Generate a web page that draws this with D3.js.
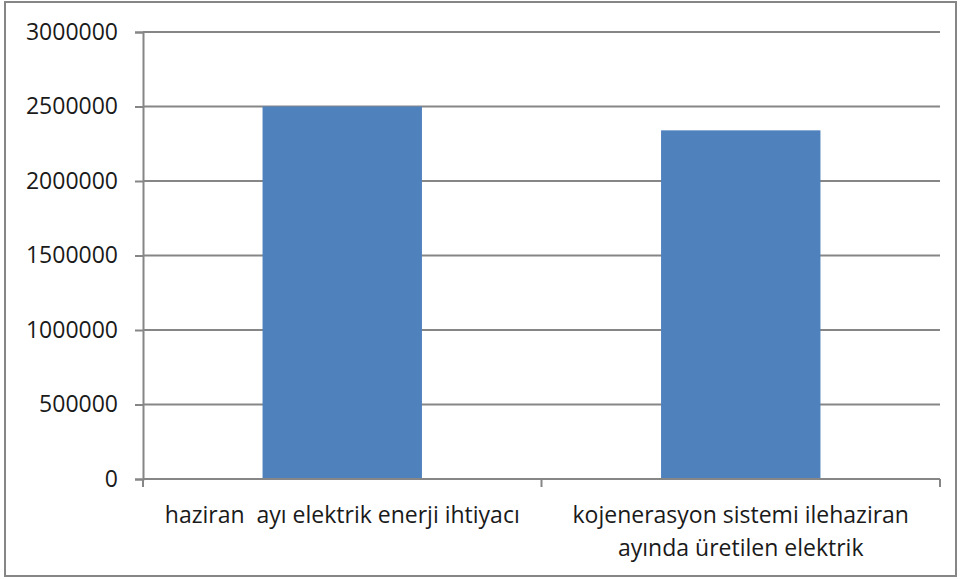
<!DOCTYPE html>
<html>
<head>
<meta charset="utf-8">
<script src="https://cdn.jsdelivr.net/npm/d3@7"></script>
<style>
  body { margin: 0; background: #fff; }
  text { font-family: "Open Sans", sans-serif; fill: #1a1a1a; white-space: pre; }
</style>
</head>
<body>
<svg id="chart" width="961" height="579"></svg>
<script>
'use strict';

// data
var categories = [
  ['haziran  ayı elektrik enerji ihtiyacı'],
  ['kojenerasyon sistemi ilehaziran', 'ayında üretilen elektrik']
];
var values = [2500000, 2340000];
var yTicks = [0, 500000, 1000000, 1500000, 2000000, 2500000, 3000000];

var svg = d3.select('#chart');
var margin = { left: 143, right: 21, top: 32, bottom: 100 };
var width = 961 - margin.left - margin.right;
var height = 579 - margin.top - margin.bottom;
var grey = '#868686';

// outer frame
svg.append('rect')
  .attr('x', 5).attr('y', 2)
  .attr('width', 951).attr('height', 574)
  .attr('fill', 'none')
  .attr('stroke', grey)
  .attr('stroke-width', 2);

var g = svg.append('g')
  .attr('transform', 'translate(' + margin.left + ',' + margin.top + ')');

var x = d3.scaleBand()
  .domain(d3.range(categories.length))
  .range([0, width])
  .paddingInner(0.6)
  .paddingOuter(0.3);

var y = d3.scaleLinear()
  .domain([0, 3000000])
  .range([height, 0]);

// gridlines
g.selectAll('line.grid')
  .data(yTicks.slice(1))
  .enter().append('line')
  .attr('class', 'grid')
  .attr('x1', 0).attr('x2', width)
  .attr('y1', function (d) { return y(d); })
  .attr('y2', function (d) { return y(d); })
  .attr('stroke', grey)
  .attr('stroke-width', 2);

// bars
g.selectAll('rect.bar')
  .data(values)
  .enter().append('rect')
  .attr('class', 'bar')
  .attr('x', function (d, i) { return x(i); })
  .attr('width', x.bandwidth())
  .attr('y', function (d) { return y(d); })
  .attr('height', function (d) { return height - y(d); })
  .attr('fill', '#4f81bd');

// y axis
var yAxis = g.append('g')
  .call(d3.axisLeft(y).tickValues(yTicks).tickSize(8).tickPadding(17)
    .tickFormat(d3.format('d')));
yAxis.selectAll('line, path').attr('stroke', grey).attr('stroke-width', 2);
yAxis.selectAll('text')
  .attr('font-size', '23px')
  .attr('font-family', '"Open Sans", sans-serif')
  .attr('fill', '#1a1a1a');

// x axis: baseline plus ticks at band boundaries
var step = width / categories.length;
g.append('line')
  .attr('x1', 0).attr('x2', width)
  .attr('y1', height).attr('y2', height)
  .attr('stroke', grey).attr('stroke-width', 2);
g.selectAll('line.xtick')
  .data(d3.range(categories.length + 1))
  .enter().append('line')
  .attr('class', 'xtick')
  .attr('x1', function (d) { return d * step; })
  .attr('x2', function (d) { return d * step; })
  .attr('y1', height).attr('y2', height + 8)
  .attr('stroke', grey).attr('stroke-width', 2);

// category labels
var labels = g.selectAll('text.cat')
  .data(categories)
  .enter().append('text')
  .attr('class', 'cat')
  .attr('text-anchor', 'middle')
  .attr('font-size', '23px')
  .attr('transform', function (d, i) {
    return 'translate(' + (x(i) + x.bandwidth() / 2) + ',' + (height + 44) + ')';
  });
labels.selectAll('tspan')
  .data(function (d) { return d; })
  .enter().append('tspan')
  .attr('x', 0)
  .attr('dy', function (d, i) { return i === 0 ? 0 : 33; })
  .text(function (d) { return d; });
</script>
</body>
</html>
